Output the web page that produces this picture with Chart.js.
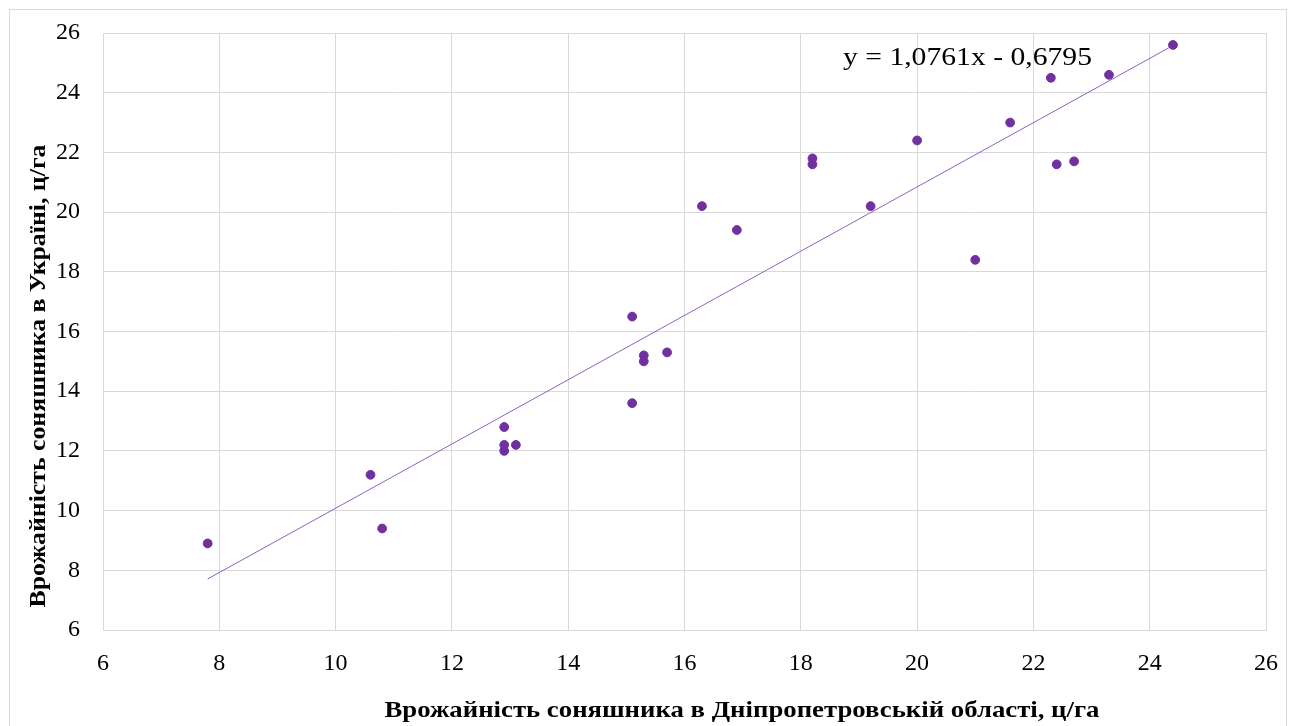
<!DOCTYPE html>
<html>
<head>
<meta charset="utf-8">
<script src="https://cdn.jsdelivr.net/npm/chart.js@4.4.1/dist/chart.umd.min.js"></script>
<style>
  body { margin: 0; background: #fff; }
  #wrap { width: 1289px; height: 726px; position: relative; }
</style>
</head>
<body>
<div id="wrap"><canvas id="chart"></canvas></div>
<script>
// Yield of sunflower: Dnipropetrovsk region (x) vs Ukraine (y), c/ha
const yieldDnipro = [7.8, 10.6, 10.8, 12.9, 12.9, 12.9, 13.1, 15.1, 15.1, 15.3, 15.3, 15.7, 16.3,
                     16.9, 18.2, 18.2, 19.2, 20.0, 21.0, 21.6, 22.3, 22.4, 22.7, 23.3, 24.4];
const yieldUkraine = [8.9, 11.2, 9.4, 12.8, 12.2, 12.0, 12.2, 16.5, 13.6, 15.2, 15.0, 15.3, 20.2,
                      19.4, 21.8, 21.6, 20.2, 22.4, 18.4, 23.0, 24.5, 21.6, 21.7, 24.6, 25.6];

// trendline end points, as drawn
const trendX = [7.8, 24.4];
const trendY = [7.71, 25.58];
const trendLabel = 'y = 1,0761x - 0,6795';

const xTitle = 'Врожайність соняшника в Дніпропетровській області, ц/га';
const yTitle = 'Врожайність соняшника в Україні, ц/га';

const serif = '"Liberation Serif", "Times New Roman", serif';
const gridColor = '#d9d9d9';
const pointColor = '#7030a0';

// draw text stretched to a given width (the original text is a bit wider than the font)
function fitText(ctx, text, x, y, width) {
    const w = ctx.measureText(text).width;
    ctx.save();
    ctx.translate(x, y);
    ctx.scale(width / w, 1);
    ctx.fillText(text, 0, 0);
    ctx.restore();
}

// extra text: axis titles, equation, outer frame
const decorPlugin = {
    id: 'decor',
    afterDraw(chart) {
        const ctx = chart.ctx;
        ctx.save();
        ctx.strokeStyle = gridColor;
        ctx.lineWidth = 1;
        ctx.strokeRect(9.5, 9.5, 1277, 730);

        ctx.fillStyle = '#000';
        ctx.textBaseline = 'alphabetic';
        ctx.textAlign = 'center';
        ctx.font = 'bold 23px ' + serif;
        fitText(ctx, xTitle, 742, 717, 715);

        ctx.save();
        ctx.translate(45, 376);
        ctx.rotate(-Math.PI / 2);
        ctx.font = 'bold 24px ' + serif;
        fitText(ctx, yTitle, 0, 0, 463);
        ctx.restore();

        ctx.textAlign = 'left';
        ctx.font = '26px ' + serif;
        fitText(ctx, trendLabel, 843, 65, 249);
        ctx.restore();
    }
};

const tickFont = { family: serif, size: 24 };

new Chart(document.getElementById('chart'), {
    type: 'scatter',
    data: {
        datasets: [
            {
                label: 'data',
                data: yieldDnipro.map((x, i) => ({ x: x, y: yieldUkraine[i] })),
                backgroundColor: pointColor,
                borderColor: pointColor,
                pointRadius: 4.4,
                pointHoverRadius: 4.4,
                order: 1
            },
            {
                label: 'trend',
                type: 'line',
                data: trendX.map((x, i) => ({ x: x, y: trendY[i] })),
                borderColor: '#9060c0',
                borderWidth: 1,
                pointRadius: 0,
                fill: false,
                order: 2
            }
        ]
    },
    options: {
        responsive: true,
        maintainAspectRatio: false,
        animation: false,
        layout: { autoPadding: false, padding: { top: 33, right: 23, left: 0, bottom: 0 } },
        plugins: {
            legend: { display: false },
            tooltip: { enabled: false }
        },
        scales: {
            x: {
                type: 'linear',
                min: 6,
                max: 26,
                ticks: { stepSize: 2, padding: 19, font: tickFont, color: '#000' },
                grid: { color: gridColor, drawTicks: false },
                border: { color: gridColor },
                afterFit: s => { s.height = 96; s.paddingLeft = 0; s.paddingRight = 0; }
            },
            y: {
                min: 6,
                max: 26,
                ticks: { stepSize: 2, padding: 23, font: tickFont, color: '#000' },
                grid: { color: gridColor, drawTicks: false },
                border: { color: gridColor },
                afterFit: s => { s.width = 103; s.paddingTop = 0; s.paddingBottom = 0; }
            }
        }
    },
    plugins: [decorPlugin]
});
</script>
</body>
</html>
